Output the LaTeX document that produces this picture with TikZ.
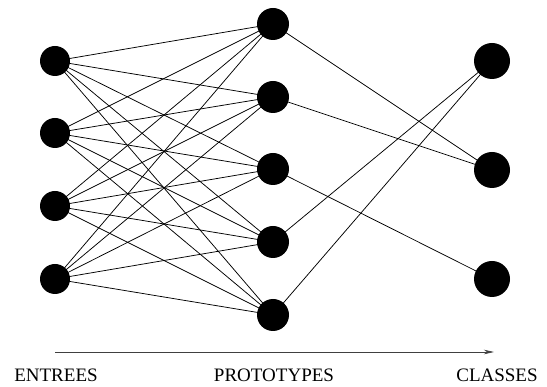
\documentclass[tikz,border=0pt]{standalone}
\usepackage{fontspec}
\setmainfont{Liberation Serif}
\usetikzlibrary{arrows.meta}
\begin{document}
\begin{tikzpicture}[x=1pt,y=-1pt,
  neuron/.style={circle,fill=black,draw=none,inner sep=0pt,minimum size=#1},
  link/.style={line width=0.75pt,black},
  lbl/.style={font=\fontsize{19}{22}\selectfont,anchor=base,inner sep=0pt}]
\useasboundingbox (0,0) rectangle (547,387);
% input layer
\foreach \i/\y in {1/61,2/133,3/206,4/279}
  \coordinate (i\i) at (55,\y);
\foreach \p/\y in {1/24,2/97,3/169,4/242,5/315}
  \coordinate (p\p) at (273,\y);
\foreach \c/\y in {1/61,2/170,3/279}
  \coordinate (c\c) at (492,\y);
% connectors
\foreach \i in {1,...,4}
  \foreach \p in {1,...,5}
    \draw[link] (i\i) -- (p\p);
\draw[link] (p1) -- (c2);
\draw[link] (p2) -- (c2);
\draw[link] (p3) -- (c3);
\draw[link] (p4) -- (c1);
\draw[link] (p5) -- (c1);
% nodes
\foreach \i in {1,...,4}
  \node[neuron=30pt] (ni\i) at (i\i) {};
\foreach \p in {1,...,5}
  \node[neuron=32pt] (np\p) at (p\p) {};
\foreach \c in {1,...,3}
  \node[neuron=36pt] (nc\c) at (c\c) {};
% arrow
\coordinate (as) at (55,352);
\coordinate (ae) at (494,352);
\draw[line width=0.8pt,black!75,-{Stealth[length=10pt,width=4.5pt,inset=3pt]}] (as) -- (ae);
% labels
\node[lbl] (le) at (56,382) {ENTREES};
\node[lbl] (lp) at (274,382) {PROTOTYPES};
\node[lbl] (lc) at (497,382) {CLASSES};
\end{tikzpicture}
\end{document}
